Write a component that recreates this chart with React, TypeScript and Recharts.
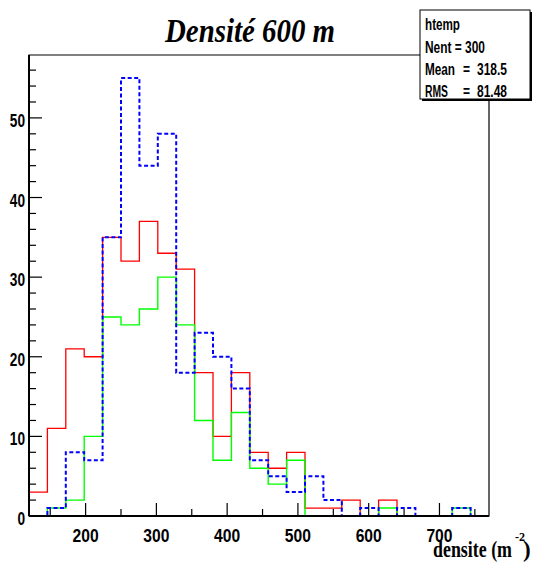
import React from 'react';
import { LineChart, Line, XAxis, YAxis, ReferenceArea } from 'recharts';

const binEdges = [120, 146, 172, 198, 224, 250, 276, 302, 328, 354, 380, 406, 432, 458, 484, 510, 536, 562, 588, 614, 640, 666, 692, 718, 744, 770];
const redCounts = [3, 11, 21, 20, 35, 32, 37, 33, 31, 18, 10, 18, 8, 6, 8, 1, 1, 2, 0, 2, 0, 0, 0, 0, 0];
const greenCounts = [0, 1, 2, 10, 25, 24, 26, 30, 24, 12, 7, 13, 6, 4, 7, 0, 0, 0, 0, 1, 0, 0, 0, 1, 0];
const blueCounts = [0, 1, 8, 7, 35, 55, 44, 48, 18, 23, 20, 16, 7, 5, 3, 5, 2, 0, 1, 0, 1, 0, 0, 1, 0];

const xTicks = [150, 200, 250, 300, 350, 400, 450, 500, 550, 600, 650, 700, 750];
const xLabels = [200, 300, 400, 500, 600, 700];
const yTicks = [0, 2, 4, 6, 8, 10, 12, 14, 16, 18, 20, 22, 24, 26, 28, 30, 32, 34, 36, 38, 40, 42, 44, 46, 48, 50, 52, 54, 56];
const yLabels = [0, 10, 20, 30, 40, 50];

const titleText = 'Densité 600 m';
const statsName = 'htemp';
const statsRows = [
  ['Nent', '300'],
  ['Mean', '318.5'],
  ['RMS', '81.48'],
];
const xAxisTitle = 'densite (m';

const X_MIN = 120;
const X_MAX = 770;
const Y_MAX = 57.9;

const data = binEdges.map((e, i) => {
  const k = Math.min(i, redCounts.length - 1);
  return { x: e, red: redCounts[k], green: greenCounts[k], blue: blueCounts[k] };
});

const labelFont = '"Liberation Sans", Arial, sans-serif';
const serifFont = '"Liberation Serif", "Times New Roman", serif';

const XTick = (props: any) => {
  const { x, y, payload } = props;
  const v = payload.value;
  const major = xLabels.includes(v);
  const s = String(v);
  return (
    <g>
      <line x1={x} x2={x} y1={y} y2={y - (major ? 13 : 7)} stroke="#000" strokeWidth={1.2} />
      {major && (
        <text x={x - (s.length * 8.7) / 2} y={y + 26} textLength={s.length * 8.7} lengthAdjust="spacingAndGlyphs" fontFamily={labelFont} fontWeight="bold" fontSize={19} fill="#000">
          {s}
        </text>
      )}
    </g>
  );
};

const YTick = (props: any) => {
  const { x, y, payload } = props;
  const v = payload.value;
  const major = yLabels.includes(v);
  const s = String(v);
  return (
    <g>
      <line x1={x} x2={x + (major ? 13 : 7)} y1={y} y2={y} stroke="#000" strokeWidth={1.2} />
      {major && (
        <text x={x - 4 - s.length * 7.6} y={y + 9} textLength={s.length * 7.6} lengthAdjust="spacingAndGlyphs" fontFamily={labelFont} fontWeight="bold" fontSize={18.5} fill="#000">
          {s}
        </text>
      )}
    </g>
  );
};

const statStyle = { fontFamily: labelFont, fontWeight: 'bold' as const, fontSize: 16, fill: '#000' };

export default function App() {
  return (
    <div style={{ position: 'absolute', left: 0, top: 0, width: 533, height: 567, background: '#fff' }}>
      <LineChart width={533} height={567} data={data} margin={{ top: 55, right: 44, bottom: 21, left: 0 }}>
        <XAxis
          dataKey="x"
          type="number"
          domain={[X_MIN, X_MAX]}
          ticks={xTicks}
          allowDataOverflow
          height={30}
          tickSize={0}
          tickMargin={0}
          tickLine={false}
          axisLine={{ stroke: '#000', strokeWidth: 2 }}
          tick={<XTick />}
          interval={0}
        />
        <YAxis
          type="number"
          domain={[0, Y_MAX]}
          ticks={yTicks}
          allowDataOverflow
          width={29}
          tickSize={0}
          tickMargin={0}
          tickLine={false}
          axisLine={{ stroke: '#000', strokeWidth: 2 }}
          tick={<YTick />}
          interval={0}
        />
        <ReferenceArea x1={X_MIN} x2={X_MAX} y1={0} y2={Y_MAX} fill="none" stroke="#000" strokeWidth={1.2} fillOpacity={0} />
        <Line type="stepAfter" dataKey="red" stroke="#ff0000" strokeWidth={1.3} dot={false} isAnimationActive={false} />
        <Line type="stepAfter" dataKey="green" stroke="#00ff00" strokeWidth={1.4} dot={false} isAnimationActive={false} />
        <Line type="stepAfter" dataKey="blue" stroke="#0000ff" strokeWidth={2} strokeDasharray="4 2.5" dot={false} isAnimationActive={false} />
      </LineChart>
      <svg width={533} height={567} style={{ position: 'absolute', left: 0, top: 0, pointerEvents: 'none' }}>
        <text x={165} y={42} fontFamily={serifFont} fontWeight="bold" fontStyle="italic" fontSize={33} textLength={170} lengthAdjust="spacingAndGlyphs" fill="#000">
          {titleText}
        </text>
        <rect x={422} y={12} width={110} height={89} fill="#000" />
        <rect x={420} y={10} width={110} height={89} fill="#fff" stroke="#000" strokeWidth={1} />
        <text x={425} y={30} textLength={35} lengthAdjust="spacingAndGlyphs" {...statStyle}>{statsName}</text>
        <text x={425} y={53} textLength={60} lengthAdjust="spacingAndGlyphs" {...statStyle}>{`${statsRows[0][0]} = ${statsRows[0][1]}`}</text>
        <text x={425} y={75} textLength={30} lengthAdjust="spacingAndGlyphs" {...statStyle}>{statsRows[1][0]}</text>
        <text x={463} y={75} textLength={7} lengthAdjust="spacingAndGlyphs" {...statStyle}>=</text>
        <text x={477} y={75} textLength={30} lengthAdjust="spacingAndGlyphs" {...statStyle}>{statsRows[1][1]}</text>
        <text x={425} y={97} textLength={23} lengthAdjust="spacingAndGlyphs" {...statStyle}>{statsRows[2][0]}</text>
        <text x={463} y={97} textLength={7} lengthAdjust="spacingAndGlyphs" {...statStyle}>=</text>
        <text x={477} y={97} textLength={30} lengthAdjust="spacingAndGlyphs" {...statStyle}>{statsRows[2][1]}</text>
        <text x={433} y={557} fontFamily={serifFont} fontWeight="bold" fontSize={23} textLength={79} lengthAdjust="spacingAndGlyphs" fill="#000">
          {xAxisTitle}
        </text>
        <text x={515} y={541} fontFamily={serifFont} fontWeight="bold" fontSize={12} fill="#000">-2</text>
        <text x={523} y={557} fontFamily={serifFont} fontWeight="bold" fontSize={23} fill="#000">)</text>
      </svg>
    </div>
  );
}
